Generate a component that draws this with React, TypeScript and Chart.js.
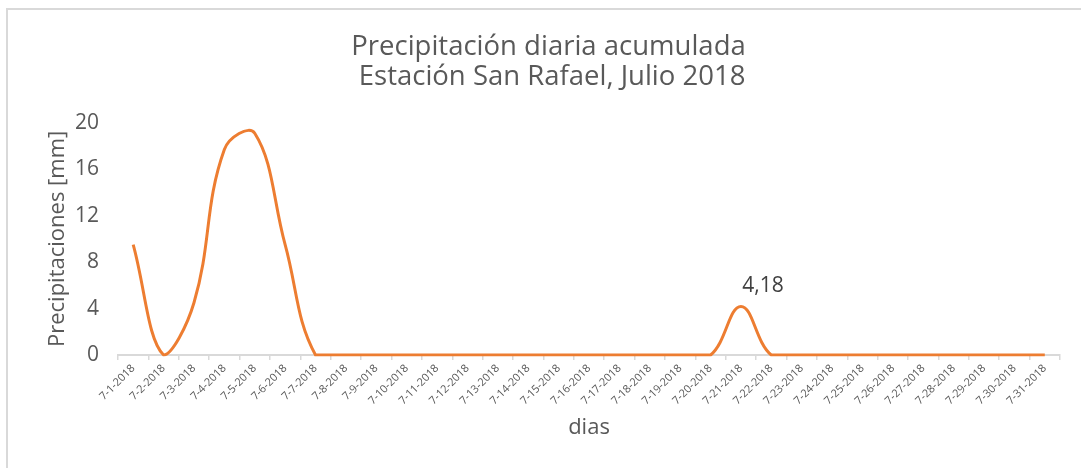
import React, { useEffect, useRef } from "react";
import { Chart, registerables } from "chart.js";

Chart.register(...registerables);

const days = [
  "7-1-2018", "7-2-2018", "7-3-2018", "7-4-2018", "7-5-2018", "7-6-2018", "7-7-2018",
  "7-8-2018", "7-9-2018", "7-10-2018", "7-11-2018", "7-12-2018", "7-13-2018", "7-14-2018",
  "7-15-2018", "7-16-2018", "7-17-2018", "7-18-2018", "7-19-2018", "7-20-2018", "7-21-2018",
  "7-22-2018", "7-23-2018", "7-24-2018", "7-25-2018", "7-26-2018", "7-27-2018", "7-28-2018",
  "7-29-2018", "7-30-2018", "7-31-2018",
];

const precipitation = [
  9.5, 0, 4.5, 17.7, 19.1, 9.5, 0,
  0, 0, 0, 0, 0, 0, 0,
  0, 0, 0, 0, 0, 0, 4.18,
  0, 0, 0, 0, 0, 0, 0,
  0, 0, 0,
];

const labeledIndex = 20;
const titleLines = ["Precipitación diaria acumulada", " Estación San Rafael, Julio 2018"];
const yTitle = "Precipitaciones [mm]";
const xTitle = "dias";

const FONT = "'Open Sans', sans-serif";
const TEXT = "#595959";
const LINE = "#ED7D31";
const AXIS = "#d9d9d9";

const labelPlugin = {
  id: "pointLabel",
  afterDatasetsDraw(chart: any) {
    const meta = chart.getDatasetMeta(0);
    const el = meta.data[labeledIndex];
    if (!el) return;
    const ctx = chart.ctx;
    ctx.save();
    ctx.font = `21px ${FONT}`;
    ctx.fillStyle = "#404040";
    ctx.textAlign = "center";
    ctx.textBaseline = "middle";
    const txt = String(precipitation[labeledIndex]).replace(".", ",");
    ctx.fillText(txt, el.x + 22, el.y - 20);
    ctx.restore();
  },
};

export default function App() {
  const ref = useRef<HTMLCanvasElement | null>(null);

  useEffect(() => {
    if (!ref.current) return;
    const chart = new Chart(ref.current, {
      type: "line",
      data: {
        labels: days,
        datasets: [
          {
            data: precipitation,
            borderColor: LINE,
            backgroundColor: LINE,
            borderWidth: 3,
            pointRadius: 0,
            tension: 0.4,
            fill: false,
            clip: { left: 5, top: 5, right: 5, bottom: 1.5 } as any,
          },
        ],
      },
      options: {
        responsive: false,
        animation: false,
        layout: { padding: { left: 37, right: 21, top: 0, bottom: 0 } },
        plugins: {
          legend: { display: false },
          tooltip: { enabled: false },
          title: {
            display: true,
            text: titleLines,
            color: TEXT,
            font: { family: FONT, size: 27.5, weight: "normal", lineHeight: 1.06 },
            padding: { top: 33, bottom: 31.5 },
          },
        },
        scales: {
          x: {
            offset: true,
            grid: {
              offset: true,
              drawOnChartArea: false,
              drawTicks: true,
              tickLength: 5,
              color: AXIS,
              lineWidth: 1.5,
            },
            border: { display: true, color: AXIS, width: 2 },
            ticks: {
              minRotation: 45,
              maxRotation: 45,
              autoSkip: false,
              color: TEXT,
              padding: 2,
              font: { family: FONT, size: 11 },
            },
            title: {
              display: true,
              text: xTitle,
              color: TEXT,
              font: { family: FONT, size: 22, lineHeight: 1.2 },
              padding: { top: 4, bottom: 27 },
            },
            afterFit(scale: any) {
              scale.height = 113;
            },
          },
          y: {
            min: 0,
            max: 20,
            grid: { display: false, drawTicks: false },
            border: { display: false },
            ticks: {
              stepSize: 4,
              color: TEXT,
              padding: 19,
              font: { family: FONT, size: 21 },
            },
            title: {
              display: true,
              text: yTitle,
              color: TEXT,
              font: { family: FONT, size: 22, lineHeight: 1.2 },
              padding: { top: 8, bottom: 0 },
            },
            afterFit(scale: any) {
              scale.width = 81;
            },
          },
        },
      },
      plugins: [labelPlugin],
    });
    return () => chart.destroy();
  }, []);

  return (
    <div
      style={{
        position: "fixed",
        left: 0,
        top: 0,
        width: 1081,
        height: 468,
        overflow: "hidden",
        background: "#fff",
      }}
    >
      <div
        style={{
          position: "absolute",
          left: 6,
          top: 8,
          width: 1100,
          height: 500,
          border: `2px solid ${AXIS}`,
          boxSizing: "border-box",
        }}
      />
      <canvas
        ref={ref}
        width={1081}
        height={468}
        style={{ position: "absolute", left: 0, top: 0, width: 1081, height: 468 }}
      />
    </div>
  );
}
